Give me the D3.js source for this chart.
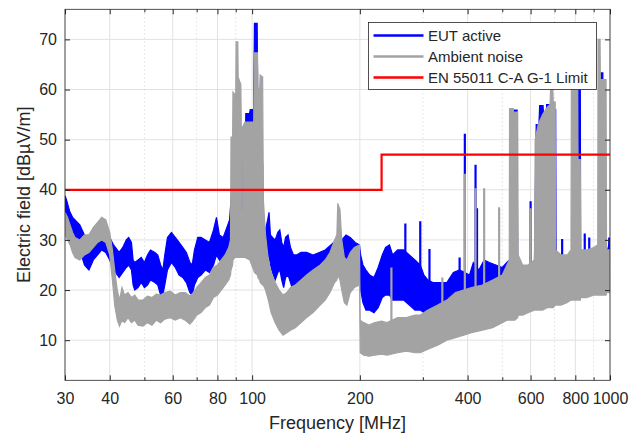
<!DOCTYPE html>
<html>
<head>
<meta charset="utf-8">
<script src="https://cdn.jsdelivr.net/npm/d3@7"></script>
<style>
body { margin: 0; background: #fff; }
text { font-family: "Liberation Sans", Arial, Helvetica, sans-serif; fill: #262626; }
</style>
</head>
<body>
<svg id="chart" width="641" height="435"></svg>
<script>
// ---- data ----
// bands: [frequency MHz, lower edge dBuV/m, upper edge dBuV/m]
var eutBand = [
	[30, 33, 38.8], [30.3, 33, 38], [30.7, 32, 36.5], [31, 31, 35.5], [31.5, 29.5, 34.5],
	[32, 28.5, 34], [32.5, 28, 33.5], [33, 27.5, 33], [33.5, 26.5, 32], [34, 25, 31],
	[34.5, 24.5, 30], [35, 24, 30], [35.5, 25, 30.5], [36, 26, 31], [37, 27, 31],
	[38, 28, 31.5], [39, 27.5, 31], [40, 26, 30.5], [41, 24, 29], [42, 23, 28],
	[42.5, 22.5, 27.5], [43.5, 23.5, 28.5], [44.5, 24.5, 30], [45.2, 25, 30.5], [46, 24, 29.5],
	[46.5, 21, 26], [47, 20, 25.5], [48, 20.5, 26], [49, 21.5, 26.5], [50, 20.5, 25.5],
	[51, 21, 27], [52, 22, 28], [53.5, 21.5, 27.5], [54.5, 21, 27], [55.5, 19, 25],
	[56.3, 19, 24], [57, 21, 27], [58, 24, 30.5], [59.5, 25.5, 31.5], [61, 24.5, 30.5],
	[62.5, 23, 29.5], [64, 22.5, 28.5], [65.5, 21.5, 27.5], [67, 19.5, 25.5], [68, 19, 25],
	[69, 21, 28], [70.5, 22.5, 30.5], [72, 23, 30.5], [74, 24, 30], [76, 23.5, 29.5],
	[78, 25, 32], [79.5, 27, 34.5], [81, 26, 31], [83, 25.5, 30.5], [85, 27, 32.5],
	[86.5, 28, 34], [87.3, 28, 38], [88, 28, 40], [93.3, 28, 45], [93.5, 28, 51],
	[93.8, 28, 51], [94, 28, 45], [95.8, 28, 50], [96, 28, 55.2], [98.3, 28, 55.2],
	[98.8, 28, 56], [101, 28, 56], [101.5, 28, 73.2], [103.3, 28, 73.2], [103.6, 28, 60],
	[107, 26, 45], [107.5, 26, 33], [109, 25, 32], [110.5, 26.5, 34], [111.5, 27, 35.5],
	[112.5, 25, 31], [114, 23.5, 30.5], [116, 22, 30], [118, 23.5, 31.5], [119.5, 24, 32],
	[121, 22, 29.5], [122.5, 20.5, 28.5], [124, 22.5, 30.5], [126, 23, 31], [128, 21.5, 28.5],
	[130.5, 19.5, 27], [133, 20.5, 27], [137, 21.5, 27.5], [142, 22, 27.5], [148, 22.5, 27],
	[154, 23, 27.5], [160, 23.5, 28], [166, 24.5, 29], [172, 25, 30], [178, 24, 30],
	[183, 24.5, 31], [188, 24, 30.5], [194, 23, 29.5], [199.5, 22, 29], [201, 20, 27],
	[204, 17.5, 25], [208, 16, 24], [213, 16, 23], [219, 15.5, 22.5], [225, 16.5, 24.5],
	[231, 18.5, 27], [236, 19, 28.5], [242, 19, 29], [247, 18, 27], [255, 18, 28],
	[265, 18, 28], [275, 17, 27], [285, 16, 26], [295, 16, 25], [302, 15.5, 23],
	[310, 15.5, 22], [320, 15.5, 21.5], [335, 15.5, 21.5], [350, 16, 21.5], [365, 17, 23.5],
	[380, 17.5, 24], [405, 18, 23], [415, 18, 25.5], [430, 18, 24], [445, 18.5, 26],
	[460, 19, 25.5], [480, 19, 25], [500, 19, 24.5], [515, 20, 25.5], [524, 20, 26],
	[536, 20, 27], [537, 20, 55.9], [550, 20, 55.9], [552, 20, 25], [570, 20, 24.5],
	[590, 20, 24.5], [615, 20.5, 25.5], [622, 20.5, 53], [633, 20.5, 53], [636, 20.5, 56.8],
	[650, 20.5, 56.8], [652, 20.5, 55], [664, 21, 55], [665, 21, 57], [680, 21, 57],
	[682, 21, 55], [694, 21, 55], [695, 21, 56], [705, 21, 56], [707, 21, 26.5],
	[730, 21, 26], [760, 21.5, 26.5], [778, 22, 27.5], [814, 22, 27.5], [815, 22, 62],
	[826, 22, 62], [828, 22, 27.5], [860, 22, 27.5], [900, 22.5, 28], [933, 22.5, 28.5],
	[934, 22.5, 63.3], [955, 22.5, 63.3], [957, 22.5, 27.5], [985, 22.5, 28], [1000, 22.5, 30]
];

var ambientBand = [
	[30, 31, 35.5], [30.5, 30, 34.5], [31, 29, 33], [31.5, 27.5, 31.5], [32, 26.5, 30.5],
	[33, 26, 30], [34, 27, 31], [35, 27.5, 31], [36, 28.5, 32.5], [37, 29.5, 33.5],
	[38, 30, 34.5], [39, 29.5, 34], [40, 27, 31.5], [40.7, 22, 28], [41.3, 17, 24],
	[42, 14, 20], [42.6, 12.8, 18], [43.3, 14, 20.5], [44, 13.5, 19], [45, 14.5, 19.5],
	[46, 13.5, 18.5], [47, 14, 19], [48, 13, 18], [49.5, 12.8, 18], [51, 13.5, 18.8],
	[52.5, 13, 18.5], [54, 14, 19.2], [55.5, 13.5, 19], [57, 14.2, 19.5], [59, 14.5, 19.8],
	[61, 14, 19], [63, 14.5, 19.5], [65, 14, 19.5], [67, 13.2, 18.8], [68.5, 14, 19.5],
	[70, 15, 20.5], [72, 15.5, 21.5], [74, 16.5, 22.5], [76, 17, 23], [78, 18.5, 24.5],
	[80, 19, 25], [82, 20, 26], [84, 21, 27], [86, 22, 28.5], [87, 23, 30],
	[87.3, 24, 50.5], [88.2, 25, 50.5], [88.4, 26, 59.5], [89.6, 26.5, 59], [90, 26.5, 58.5],
	[90.2, 26.5, 69.5], [91.2, 26.5, 69.5], [91.4, 26.5, 62.5], [93, 26.5, 61], [93.3, 26.5, 52],
	[93.5, 26.5, 36], [93.8, 26.5, 36], [94, 26.5, 52.5], [95.5, 26.5, 53.5], [98.5, 26, 53.5],
	[101, 24, 53.5], [101.5, 23.5, 67.3], [103.5, 23, 67.3], [103.8, 22.5, 60.2], [105, 22, 60.2],
	[105.3, 21.5, 62.9], [107, 21, 62.5], [107.5, 21, 38], [109, 20, 31], [111, 18, 26],
	[113, 15.5, 23.5], [116, 13.5, 21.5], [119, 12, 20], [122, 11, 19], [125, 11.5, 19.5],
	[128, 12, 20.5], [132, 12.5, 21], [137, 13.5, 22], [142, 14.5, 23], [148, 15.5, 24],
	[155, 17, 25], [160, 18, 26], [165, 19.5, 27.5], [170, 21.5, 30], [172.5, 22, 31],
	[173.5, 23, 37.3], [176, 22, 36], [178, 20, 30], [181, 17.5, 26.5], [184, 17, 26],
	[188, 19.5, 27.5], [193, 20.5, 28.5], [199.5, 21, 29], [200.5, 7.5, 14], [205, 7, 13.5],
	[212, 6.8, 13], [220, 7, 13.5], [230, 7.2, 13.8], [238, 7, 13.5], [255, 7.5, 14.5],
	[270, 7.8, 14.5], [285, 7.5, 15], [295, 7.5, 15], [310, 8.2, 16], [330, 9, 17],
	[350, 10, 18], [370, 10.5, 19.5], [390, 11, 20], [410, 11.5, 20.5], [440, 12, 21],
	[470, 12.5, 22], [500, 13.5, 23], [515, 14, 25], [523, 14, 26], [524, 14, 56.2],
	[537, 14, 56.2], [538, 14, 54], [541, 14, 54], [542, 14, 55.5], [552, 14.5, 55.5],
	[554, 15, 27], [570, 15, 25], [590, 15.5, 25], [615, 16, 26], [618, 16, 50],
	[630, 16, 53], [648, 16, 55], [668, 16.5, 56.5], [680, 16.5, 57], [683, 16.5, 61],
	[692, 16.5, 61], [694, 16.5, 57.5], [703, 17, 57.5], [705, 17, 28], [730, 17, 27],
	[760, 17.5, 27], [778, 18, 28], [780, 18, 63], [812, 18, 63], [814, 18, 46],
	[826, 18, 46], [828, 18.5, 28], [860, 18.5, 28], [900, 19, 28.5], [924, 19, 29],
	[926, 19, 70], [938, 19, 70], [940, 19, 62], [975, 19, 62], [978, 19.5, 28],
	[1000, 19.5, 28]
];

// single narrow spikes: [frequency, from, to]
var eutSpikes = [
	[268, 26, 33.3], [295, 24, 33.7], [313, 21, 28.2], [380, 22, 26.5], [393, 22, 51.2],
	[421, 23, 45], [425, 23, 36.3], [600, 24, 37.7], [735, 25, 30.2], [850, 26, 31.3],
	[875, 26, 30.5], [995, 26, 30.5]
];
var ambientSpikes = [
	[245, 13, 24.5], [340, 17, 22.5], [393, 19, 43.2], [421, 20, 40.3], [445, 20, 40.3],
	[490, 22, 36.5], [600, 24, 36.3]
];

var limitFreq = [30, 230, 230, 1000];
var limitLevel = [40, 40, 47, 47];

var xTickMajor = [30, 40, 60, 80, 100, 200, 400, 600, 800, 1000];
var xTickMinor = [50, 70, 90, 300, 500, 700, 900];
var yTicks = [10, 20, 30, 40, 50, 60, 70];

var legendNames = ['EUT active', 'Ambient noise', 'EN 55011 C-A G-1 Limit'];
var colors = ['#0000ff', '#a3a3a3', '#ff0000'];

// ---- chart ----
var L = 65, R = 610, T = 9.3, B = 380.3;
var svg = d3.select('#chart');

var x = d3.scaleLog().domain([30, 1000]).range([L, R]);
var y = d3.scaleLinear().domain([2, 76]).range([B, T]);

svg.append('defs').append('clipPath').attr('id', 'plotclip')
	.append('rect').attr('x', L).attr('y', T).attr('width', R - L).attr('height', B - T);

// grid
var grid = svg.append('g');
grid.selectAll('.gy').data(yTicks).enter().append('line')
	.attr('x1', L).attr('x2', R)
	.attr('y1', function(d) { return y(d); }).attr('y2', function(d) { return y(d); })
	.attr('stroke', '#e2e2e2').attr('stroke-width', 1);
grid.selectAll('.gx').data(xTickMajor).enter().append('line')
	.attr('x1', function(d) { return x(d); }).attr('x2', function(d) { return x(d); })
	.attr('y1', T).attr('y2', B)
	.attr('stroke', '#e2e2e2').attr('stroke-width', 1);
grid.selectAll('.gm').data(xTickMinor).enter().append('line')
	.attr('x1', function(d) { return x(d); }).attr('x2', function(d) { return x(d); })
	.attr('y1', T).attr('y2', B)
	.attr('stroke', '#c4c4c4').attr('stroke-width', 0.8).attr('stroke-dasharray', '1,3');

// data
var plot = svg.append('g').attr('clip-path', 'url(#plotclip)');
var band = d3.area()
	.x(function(d) { return x(d[0]); })
	.y0(function(d) { return y(d[1]); })
	.y1(function(d) { return y(d[2]); });

function drawSeries(bandData, spikeData, color) {
	plot.append('path').datum(bandData)
		.attr('d', band)
		.attr('fill', color)
		.attr('stroke', color).attr('stroke-width', 1.2).attr('stroke-linejoin', 'miter');
	plot.selectAll(null).data(spikeData).enter().append('line')
		.attr('x1', function(d) { return x(d[0]); }).attr('x2', function(d) { return x(d[0]); })
		.attr('y1', function(d) { return y(d[1]); }).attr('y2', function(d) { return y(d[2]); })
		.attr('stroke', color).attr('stroke-width', 2.2);
}
drawSeries(eutBand, eutSpikes, colors[0]);
drawSeries(ambientBand, ambientSpikes, colors[1]);

var limitLine = d3.line()
	.x(function(d) { return x(d); })
	.y(function(d, i) { return y(limitLevel[i]); });
plot.append('path').datum(limitFreq)
	.attr('d', limitLine)
	.attr('fill', 'none').attr('stroke', colors[2]).attr('stroke-width', 2.2);

// axes, ticks pointing inward
function styleAxis(g) {
	g.select('.domain').remove();
	g.selectAll('line').attr('stroke', '#262626');
	g.selectAll('text').attr('fill', '#262626').style('font-size', '16px')
		.style('font-family', '"Liberation Sans", Arial, sans-serif');
}
svg.append('g').attr('transform', 'translate(0,' + B + ')')
	.call(d3.axisBottom(x).tickValues(xTickMajor).tickFormat(d3.format('d')).tickSize(-5).tickPadding(12))
	.call(styleAxis);
svg.append('g').attr('transform', 'translate(0,' + B + ')')
	.call(d3.axisBottom(x).tickValues(xTickMinor).tickFormat('').tickSize(-3))
	.call(styleAxis);
svg.append('g').attr('transform', 'translate(0,' + T + ')')
	.call(d3.axisTop(x).tickValues(xTickMajor).tickFormat('').tickSize(-5))
	.call(styleAxis);
svg.append('g').attr('transform', 'translate(0,' + T + ')')
	.call(d3.axisTop(x).tickValues(xTickMinor).tickFormat('').tickSize(-3))
	.call(styleAxis);
svg.append('g').attr('transform', 'translate(' + L + ',0)')
	.call(d3.axisLeft(y).tickValues(yTicks).tickSize(-5).tickPadding(8))
	.call(styleAxis);
svg.append('g').attr('transform', 'translate(' + R + ',0)')
	.call(d3.axisRight(y).tickValues(yTicks).tickFormat('').tickSize(-5))
	.call(styleAxis);

svg.append('rect')
	.attr('x', L).attr('y', T).attr('width', R - L).attr('height', B - T)
	.attr('fill', 'none').attr('stroke', '#262626').attr('stroke-width', 0.8);

// axis labels
svg.append('text')
	.attr('x', (L + R) / 2).attr('y', 429)
	.attr('text-anchor', 'middle').style('font-size', '18px')
	.text('Frequency [MHz]');
svg.append('text')
	.attr('transform', 'translate(30,' + ((T + B) / 2) + ') rotate(-90)')
	.attr('text-anchor', 'middle').style('font-size', '18px')
	.text('Electric field [dBµV/m]');

// legend
var lg = svg.append('g');
lg.append('rect')
	.attr('x', 368.5).attr('y', 22.5).attr('width', 228).attr('height', 67)
	.attr('fill', '#fff').attr('stroke', '#262626').attr('stroke-width', 0.8);
var rows = lg.selectAll('.row').data(legendNames).enter().append('g')
	.attr('transform', function(d, i) { return 'translate(0,' + (35.5 + i * 21) + ')'; });
rows.append('line')
	.attr('x1', 373.5).attr('x2', 423.5)
	.attr('stroke', function(d, i) { return colors[i]; }).attr('stroke-width', 2.5);
rows.append('text')
	.attr('x', 428).attr('y', 5.5)
	.style('font-size', '15px')
	.text(function(d) { return d; });
</script>
</body>
</html>
